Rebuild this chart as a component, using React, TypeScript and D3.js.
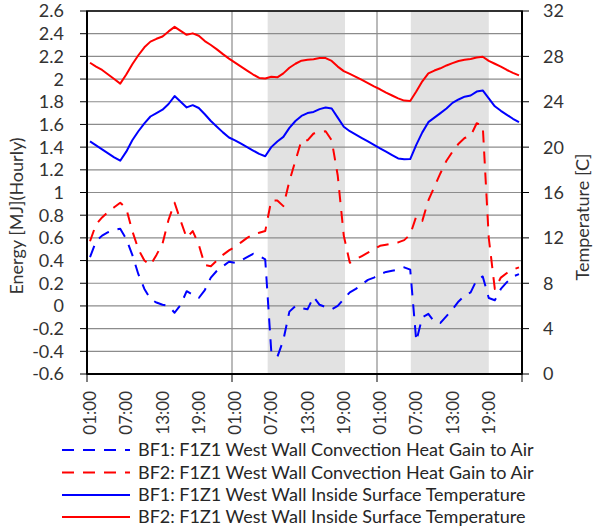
import React from "react";
import * as d3 from "d3";

const xTickLabels = ["01:00","07:00","13:00","19:00","01:00","07:00","13:00","19:00","01:00","07:00","13:00","19:00"];
const leftTicks = [-0.6,-0.4,-0.2,0,0.2,0.4,0.6,0.8,1,1.2,1.4,1.6,1.8,2,2.2,2.4,2.6];
const rightTicks = [0,4,8,12,16,20,24,28,32];
const bands = [[29.9, 42.7], [53.6, 66.5]];

const bf1Conv = [0.43,0.57,0.62,0.65,0.67,0.68,0.59,0.45,0.28,0.15,0.06,0.03,0.01,0.0,-0.06,0.01,0.13,0.10,0.07,0.14,0.25,0.31,0.35,0.39,
  0.38,0.40,0.43,0.46,0.44,0.41,-0.40,-0.45,-0.30,-0.05,0.0,-0.02,-0.03,0.08,0.01,-0.01,-0.03,0.0,0.06,0.12,0.15,0.19,0.23,0.25,
  0.28,0.30,0.31,0.32,0.34,0.32,-0.31,-0.10,-0.07,-0.14,-0.15,-0.09,-0.03,0.04,0.09,0.12,0.23,0.26,0.07,0.05,0.15,0.21,0.26,0.28];
const bf2Conv = [0.57,0.72,0.78,0.83,0.87,0.91,0.86,0.66,0.50,0.40,0.36,0.45,0.55,0.76,0.91,0.75,0.60,0.66,0.54,0.36,0.35,0.40,0.45,0.49,
  0.52,0.56,0.60,0.63,0.645,0.66,0.93,0.93,0.88,1.10,1.28,1.46,1.46,1.52,1.53,1.54,1.46,1.15,0.62,0.38,0.41,0.44,0.47,0.50,
  0.53,0.54,0.55,0.56,0.58,0.63,0.79,0.75,0.93,1.05,1.17,1.28,1.36,1.43,1.48,1.50,1.61,1.59,0.60,0.15,0.25,0.29,0.32,0.34];
const bf1Temp = [20.5,20.15,19.8,19.45,19.1,18.8,19.6,20.6,21.4,22.1,22.7,23.0,23.3,23.8,24.5,24.0,23.5,23.7,23.45,22.9,22.3,21.8,21.3,20.85,
  20.6,20.3,20.0,19.7,19.4,19.2,20.0,20.5,20.9,21.7,22.3,22.75,23.0,23.1,23.35,23.5,23.4,22.6,21.8,21.4,21.1,20.8,20.5,20.2,
  19.9,19.6,19.3,19.0,18.93,18.95,20.2,21.3,22.2,22.6,23.0,23.4,23.9,24.2,24.45,24.55,24.9,25.0,24.3,23.6,23.2,22.85,22.5,22.2];
const bf2Temp = [27.44,27.1,26.8,26.4,26.0,25.6,26.4,27.3,28.1,28.8,29.3,29.55,29.75,30.2,30.6,30.25,29.9,30.03,29.82,29.35,29.0,28.62,28.2,27.8,
  27.45,27.1,26.75,26.4,26.1,26.05,26.2,26.15,26.5,27.0,27.35,27.62,27.7,27.75,27.85,27.85,27.6,27.1,26.7,26.45,26.2,25.92,25.65,25.35,
  25.1,24.8,24.55,24.3,24.1,24.07,24.9,25.8,26.5,26.75,26.95,27.2,27.4,27.59,27.7,27.77,27.9,27.97,27.6,27.35,27.1,26.8,26.55,26.33];

const legendLabels = [
  "BF1: F1Z1 West Wall Convection Heat Gain to Air",
  "BF2: F1Z1 West Wall Convection Heat Gain to Air",
  "BF1: F1Z1 West Wall Inside Surface Temperature",
  "BF2: F1Z1 West Wall Inside Surface Temperature",
];

const BLUE = "#0000ff";
const RED = "#ff0000";
const FONT = "Lato, 'Open Sans', sans-serif";
const TXT = "#333333";

export default function App() {
  const W = 596, H = 528;
  const x0 = 87, x1 = 522, y0 = 11, y1 = 374;
  const x = d3.scaleLinear().domain([0, 72]).range([x0, x1]);
  const yL = d3.scaleLinear().domain([-0.6, 2.6]).range([y1, y0]);
  const yR = d3.scaleLinear().domain([0, 32]).range([y1, y0]);
  const lineL = d3.line<number>().x((_, i) => x(i + 0.5)).y((d) => yL(d));
  const lineR = d3.line<number>().x((_, i) => x(i + 0.5)).y((d) => yR(d));
  const dash = "12,9";
  const series = [
    { d: lineL(bf1Conv), c: BLUE, dash },
    { d: lineL(bf2Conv), c: RED, dash },
    { d: lineR(bf1Temp), c: BLUE, dash: undefined },
    { d: lineR(bf2Temp), c: RED, dash: undefined },
  ];
  const legendY = [450, 472.5, 495, 517];

  return (
    <svg width={W} height={H} style={{ position: "absolute", left: 0, top: 0, background: "#fff" }} fontFamily={FONT}>
      <rect x={0} y={0} width={W} height={H} fill="#fff" />
      {bands.map((b, i) => (
        <rect key={i} x={x(b[0])} y={y0} width={x(b[1]) - x(b[0])} height={y1 - y0} fill="#e2e2e2" />
      ))}
      {leftTicks.map((t, i) => (
        <line key={i} x1={x0} x2={x1} y1={yL(t)} y2={yL(t)} stroke="#8c8c8c" strokeWidth={1.2} />
      ))}
      {[24, 48].map((h) => (
        <line key={h} x1={x(h)} x2={x(h)} y1={y0} y2={y1} stroke="#8c8c8c" strokeWidth={1.2} />
      ))}
      {series.map((s, i) => (
        <path key={i} d={s.d || ""} fill="none" stroke={s.c} strokeWidth={2} strokeDasharray={s.dash} strokeLinejoin="round" />
      ))}
      <rect x={x0} y={y0} width={x1 - x0} height={y1 - y0} fill="none" stroke="#000" strokeWidth={1.5} />
      <line x1={x0} x2={x0} y1={y0} y2={y1} stroke="#000" strokeWidth={2} />
      <line x1={x0} x2={x1} y1={y1} y2={y1} stroke="#000" strokeWidth={2} />
      <line x1={x1} x2={x1} y1={y0} y2={y1} stroke="#000" strokeWidth={2} />
      {leftTicks.map((t, i) => (
        <g key={i}>
          <line x1={x0 - 7} x2={x0} y1={yL(t)} y2={yL(t)} stroke="#000" strokeWidth={1} />
          <text x={64} y={yL(t)} dy="0.36em" textAnchor="end" fontSize={18} fill={TXT}>{String(t)}</text>
        </g>
      ))}
      {rightTicks.map((t, i) => (
        <g key={i}>
          <line x1={x1} x2={x1 + 7} y1={yR(t)} y2={yR(t)} stroke="#000" strokeWidth={1} />
          <text x={543} y={yR(t)} dy="0.36em" textAnchor="start" fontSize={18} fill={TXT}>{String(t)}</text>
        </g>
      ))}
      {[0, 24, 48, 72].map((h) => (
        <line key={h} x1={x(h)} x2={x(h)} y1={y1} y2={y1 + 8} stroke="#000" strokeWidth={1} />
      ))}
      {xTickLabels.map((l, i) => (
        <text key={i} transform={`translate(${x(i * 6 + 0.5)},${391}) rotate(-90)`} dy="0.36em" textAnchor="end" fontSize={17} fill={TXT}>{l}</text>
      ))}
      <text transform={`translate(17,216) rotate(-90)`} dy="0.36em" textAnchor="middle" fontSize={18} fill={TXT}>Energy [MJ](Hourly)</text>
      <text transform={`translate(583,217) rotate(-90)`} dy="0.36em" textAnchor="middle" fontSize={18} fill={TXT}>Temperature [C]</text>
      {legendLabels.map((l, i) => (
        <g key={i}>
          <line x1={62} x2={130} y1={legendY[i]} y2={legendY[i]} stroke={series[i].c} strokeWidth={2} strokeDasharray={series[i].dash} />
          <text x={138} y={legendY[i]} dy="0.36em" fontSize={18} fill="#262626">{l}</text>
        </g>
      ))}
    </svg>
  );
}
